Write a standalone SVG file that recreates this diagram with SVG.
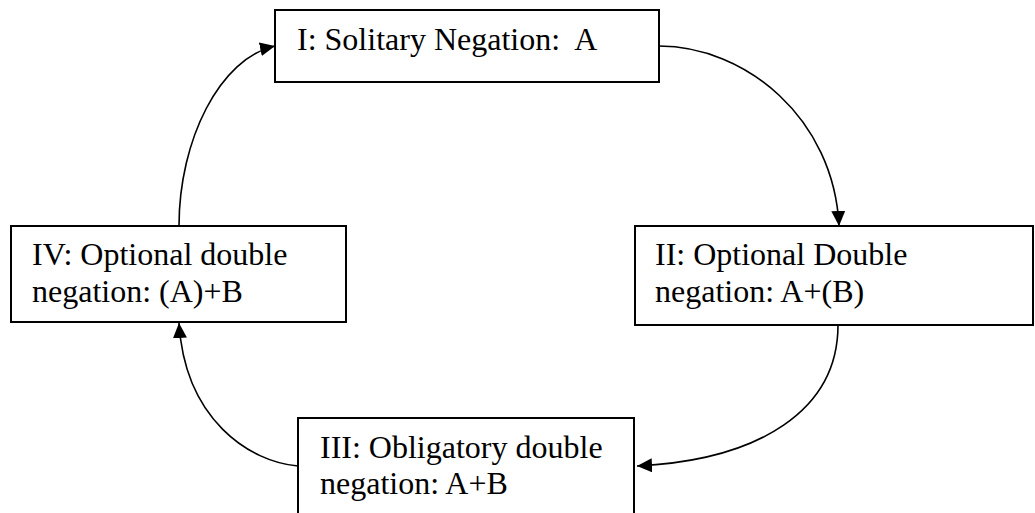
<svg xmlns="http://www.w3.org/2000/svg" width="1035" height="513" viewBox="0 0 1035 513">
<style>
.box{fill:#fff;stroke:#000;stroke-width:2}
.lbl{font-family:"Liberation Serif","Times New Roman",serif;font-size:32px;fill:#000}
.conn{fill:none;stroke:#000;stroke-width:1.6}
</style>
<defs>
<marker id="arr" markerUnits="userSpaceOnUse" markerWidth="16" markerHeight="16" refX="15" refY="7" orient="auto">
<path d="M0,0 L15,7 L0,14 Z" fill="#000"/>
</marker>
</defs>
<rect width="1035" height="513" fill="#fff"/>
<g id="connectors">
<path class="conn" d="M659,46 C745,46 834,118 839,226" marker-end="url(#arr)"/>
<path class="conn" d="M838,325 C838,410 760,460 637,466" marker-end="url(#arr)"/>
<path class="conn" d="M298,466 C250,462 185,420 179,323" marker-end="url(#arr)"/>
<path class="conn" d="M179,226 C179,140 220,58 275,46" marker-end="url(#arr)"/>
</g>
<g id="node1">
<rect class="box" x="275" y="10" width="384" height="72"/>
<text class="lbl" x="297" y="50" xml:space="preserve">I: Solitary Negation:  A</text>
</g>
<g id="node2">
<rect class="box" x="635" y="226" width="398" height="99"/>
<text class="lbl" x="655" y="265">II: Optional Double</text>
<text class="lbl" x="655" y="302">negation: A+(B)</text>
</g>
<g id="node3">
<rect class="box" x="298" y="418" width="336" height="110"/>
<text class="lbl" x="320" y="458">III: Obligatory double</text>
<text class="lbl" x="320" y="494">negation: A+B</text>
</g>
<g id="node4">
<rect class="box" x="11" y="226" width="335" height="96"/>
<text class="lbl" x="32" y="265">IV: Optional double</text>
<text class="lbl" x="32" y="302">negation: (A)+B</text>
</g>
</svg>
